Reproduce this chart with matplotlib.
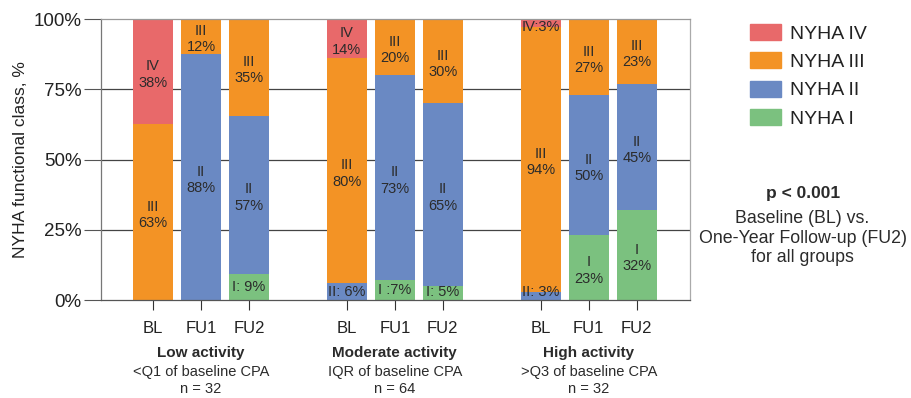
import numpy as np
import matplotlib
matplotlib.use("Agg")
import matplotlib.pyplot as plt
from matplotlib.patches import Patch

plt.rcParams["font.family"] = ["Liberation Sans", "DejaVu Sans"]

# data (percent) per bar, order: BL, FU1, FU2 for each of 3 groups
bar_names = ["BL", "FU1", "FU2"] * 3
nyha1 = [0, 0, 9.4, 0, 7, 5, 0, 23, 32]
nyha2 = [0, 87.5, 56.2, 6, 73, 65, 3, 50, 45]
nyha3 = [62.5, 12.5, 34.4, 80, 20, 30, 94, 27, 23]
nyha4 = [37.5, 0, 0, 14, 0, 0, 3, 0, 0]

lab1 = ["", "", "I: 9%", "", "I :7%", "I: 5%", "", "I\n23%", "I\n32%"]
lab2 = ["", "II\n88%", "II\n57%", "II: 6%", "II\n73%", "II\n65%", "II: 3%", "II\n50%", "II\n45%"]
lab3 = ["III\n63%", "III\n12%", "III\n35%", "III\n80%", "III\n20%", "III\n30%", "III\n94%", "III\n27%", "III\n23%"]
lab4 = ["IV\n38%", "", "", "IV\n14%", "", "", "IV:3%", "", ""]

group_titles = ["Low activity", "Moderate activity", "High activity"]
group_sub = ["<Q1 of baseline CPA", "IQR of baseline CPA", ">Q3 of baseline CPA"]
group_n = ["n = 32", "n = 64", "n = 32"]

colors = {"I": "#7bc17f", "II": "#6a89c3", "III": "#f39325", "IV": "#e8696a"}
txt = "#2b2b2b"

fig = plt.figure(figsize=(9.11, 3.98), dpi=100)
ax = fig.add_axes([0.1109, 0.2462, 0.6465, 0.706])

gap = 4.04
x = np.array([g * gap + j for g in range(3) for j in range(3)])
w = 0.83

series = [(nyha1, lab1, "I"), (nyha2, lab2, "II"), (nyha3, lab3, "III"), (nyha4, lab4, "IV")]
bottom = np.zeros(9)
for vals, labs, key in series:
    vals = np.array(vals, dtype=float)
    ax.bar(x, vals, w, bottom=bottom, color=colors[key], zorder=2)
    for xi, b, v, lb in zip(x, bottom, vals, labs):
        if lb:
            yc = min(max(b + v / 2, 3), 97.3)
            if "\n" in lb:
                yc -= 1
            ax.text(xi, yc, lb, ha="center", va="center", fontsize=10.5,
                    color=txt, linespacing=1.2, zorder=3)
    bottom += vals

ax.set_xlim(-1.083, 11.19)
ax.set_ylim(0, 100)
ax.set_yticks([0, 25, 50, 75, 100])
ax.set_yticklabels(["0%", "25%", "50%", "75%", "100%"], fontsize=13.5, color="#222")
ax.tick_params(axis="y", length=12, width=0.8, color="#555", pad=2)
ax.set_xticks(x)
ax.set_xticklabels(bar_names, fontsize=12, color="#222")
ax.tick_params(axis="x", length=7, width=0.8, color="#333", pad=8)
for yv in [25, 50, 75]:
    ax.axhline(yv, color="#444", linewidth=0.9, zorder=1)
ax.spines["left"].set_color("#777")
ax.spines["right"].set_color("#aaa")
ax.spines["top"].set_color("#999")
ax.spines["bottom"].set_color("#555")
for s in ax.spines.values():
    s.set_linewidth(0.9)
ax.set_ylabel("NYHA functional class, %", fontsize=12.5, color="#222", labelpad=4)

tr = ax.get_xaxis_transform()
for g in range(3):
    cx = g * gap + 1
    ax.text(cx, -0.19, group_titles[g], transform=tr, ha="center", va="center",
            fontsize=11, fontweight="bold", color=txt)
    ax.text(cx, -0.255, group_sub[g], transform=tr, ha="center", va="center",
            fontsize=10.5, color=txt)
    ax.text(cx, -0.317, group_n[g], transform=tr, ha="center", va="center",
            fontsize=10.5, color=txt)

handles = [Patch(color=colors[k]) for k in ["IV", "III", "II", "I"]]
fig.legend(handles, ["NYHA IV", "NYHA III", "NYHA II", "NYHA I"],
           loc="upper left", bbox_to_anchor=(0.823, 0.94), frameon=False,
           borderpad=0, borderaxespad=0,
           fontsize=14, handlelength=1.6, handleheight=0.88, handletextpad=0.45,
           labelspacing=0.5, labelcolor="#222")

fig.text(0.881, 0.515, "p < 0.001", ha="center", va="center", fontsize=12.5,
         fontweight="bold", color=txt)
fig.text(0.881, 0.402, "Baseline (BL) vs.\nOne-Year Follow-up (FU2)\nfor all groups",
         ha="center", va="center", fontsize=12.8, color=txt, linespacing=1.2)

fig.savefig("out.png", dpi=100)
plt.close(fig)
